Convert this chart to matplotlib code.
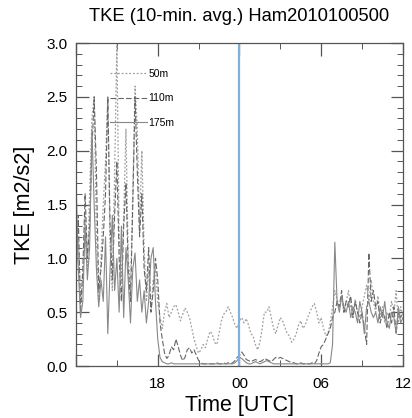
import numpy as np
import matplotlib.pyplot as plt
from matplotlib.ticker import MultipleLocator

# ============================================================
# DATA (10-min averages, 12 UTC -> 12 UTC next day)
# ============================================================

hours = np.arange(12, 36 + 1e-9, 1 / 6)

tke_50m = [
    0.9, 1.2, 0.6, 0.8, 1.4, 0.9,
    1.6, 2.3, 2.5, 1.2, 0.6, 1.0,
    1.5, 1.9, 2.5, 1.1, 0.7, 1.8,
    3.0, 1.2, 0.8, 1.4, 2.2, 1.0,
    0.7, 1.6, 2.6, 2.2, 1.3, 2.0,
    1.1, 0.6, 0.9, 0.5, 0.8, 0.9,
    0.6, 0.45, 0.35, 0.5, 0.58, 0.45,
    0.5, 0.55, 0.57, 0.5, 0.42, 0.48,
    0.54, 0.5, 0.45, 0.35, 0.25, 0.18,
    0.12, 0.15, 0.2, 0.17, 0.25, 0.32,
    0.3, 0.22, 0.2, 0.3, 0.42, 0.48,
    0.5, 0.55, 0.5, 0.45, 0.38, 0.35,
    0.42, 0.45, 0.4, 0.44, 0.38, 0.3,
    0.28, 0.2, 0.15, 0.22, 0.35, 0.5,
    0.5, 0.55, 0.45, 0.35, 0.3, 0.38,
    0.45, 0.42, 0.36, 0.3, 0.28, 0.22,
    0.25, 0.3, 0.38, 0.42, 0.35, 0.38,
    0.45, 0.5, 0.55, 0.58, 0.5, 0.4,
    0.45, 0.35, 0.28, 0.3, 0.4, 0.55,
    0.7, 0.62, 0.55, 0.65, 0.5, 0.6,
    0.7, 0.55, 0.48, 0.62, 0.5, 0.45,
    0.55, 0.65, 0.75, 0.6, 0.8, 0.6,
    0.5, 0.65, 0.45, 0.55, 0.4, 0.5,
    0.45, 0.6, 0.5, 0.7, 0.4, 0.55,
    0.45,
]

tke_110m = [
    0.8, 1.4, 0.5, 0.9, 1.6, 1.0,
    1.3, 2.0, 2.5, 1.8, 0.7, 0.9,
    1.2, 1.6, 2.5, 1.3, 0.8, 1.4,
    1.9, 1.0, 0.6, 1.3, 1.7, 0.9,
    0.6, 1.5, 2.5, 1.8, 1.2, 1.6,
    0.9, 0.7, 1.1, 0.5, 0.7, 1.0,
    0.8, 0.4, 0.25, 0.12, 0.07, 0.1,
    0.18, 0.15, 0.25, 0.18, 0.1, 0.05,
    0.08, 0.15, 0.17, 0.12, 0.15, 0.1,
    0.05, 0.03, 0.02, 0.02, 0.02, 0.02,
    0.02, 0.02, 0.03, 0.02, 0.02, 0.03,
    0.02, 0.03, 0.02, 0.03, 0.05, 0.08,
    0.1, 0.13, 0.1, 0.06, 0.05, 0.04,
    0.05, 0.06, 0.05, 0.04, 0.05, 0.07,
    0.06, 0.05, 0.04, 0.06, 0.08, 0.07,
    0.08, 0.07, 0.06, 0.05, 0.04, 0.03,
    0.03, 0.02, 0.02, 0.03, 0.02, 0.02,
    0.02, 0.02, 0.03, 0.02, 0.05, 0.12,
    0.18, 0.2, 0.25, 0.3, 0.35, 0.45,
    0.5, 0.6, 0.55, 0.7, 0.5, 0.6,
    0.55, 0.65, 0.45, 0.6, 0.5, 0.4,
    0.5, 0.35, 0.2, 1.05, 0.6, 0.7,
    0.55, 0.6, 0.4, 0.5, 0.45, 0.35,
    0.5, 0.4, 0.55, 0.3, 0.5, 0.45,
    0.5,
]

tke_175m = [
    1.75, 0.9, 0.45, 0.6, 1.3, 0.8,
    1.1, 2.2, 1.5, 0.9, 0.55, 0.8,
    0.6, 1.2, 0.3, 0.9, 1.4, 0.7,
    1.0, 0.5, 1.3, 0.45, 1.1, 0.8,
    0.4, 0.9, 1.05, 0.6, 0.8, 0.5,
    0.7, 0.4, 0.6, 1.0, 1.1, 0.6,
    0.25, 0.08, 0.04, 0.03, 0.02, 0.02,
    0.03, 0.02, 0.02, 0.02, 0.02, 0.02,
    0.02, 0.02, 0.02, 0.02, 0.02, 0.02,
    0.02, 0.02, 0.02, 0.02, 0.02, 0.02,
    0.02, 0.02, 0.02, 0.02, 0.02, 0.02,
    0.02, 0.02, 0.02, 0.02, 0.03, 0.05,
    0.08, 0.07, 0.05, 0.03, 0.02, 0.02,
    0.03, 0.04, 0.03, 0.02, 0.03, 0.04,
    0.05, 0.04, 0.03, 0.02, 0.02, 0.02,
    0.02, 0.02, 0.02, 0.02, 0.02, 0.02,
    0.02, 0.02, 0.02, 0.02, 0.02, 0.02,
    0.02, 0.02, 0.02, 0.02, 0.02, 0.02,
    0.02, 0.02, 0.02, 0.02, 0.03, 0.2,
    1.15, 0.6, 0.5, 0.65, 0.55, 0.5,
    0.6, 0.45, 0.55, 0.5, 0.4, 0.6,
    0.5, 0.3, 0.55, 0.6, 0.5, 0.45,
    0.5, 0.4, 0.55, 0.45, 0.6, 0.4,
    0.35, 0.5, 0.45, 0.3, 0.55, 0.4,
    0.45,
]

xtick_pos = [12, 18, 24, 30, 36]
xtick_lab = ["", "18", "00", "06", "12"]

# ============================================================
# PLOT
# ============================================================

plt.rcParams["font.family"] = ["Liberation Sans", "DejaVu Sans"]

fig = plt.figure(figsize=(4.12, 4.18), dpi=100)
ax = fig.add_axes([0.1845, 0.1244, 0.7935, 0.7726])

ax.plot(hours, tke_50m, ls=(0, (1.5, 1.5)), color="#a0a0a0", lw=0.9, label="50m")
ax.plot(hours, tke_110m, ls=(0, (5, 2)), color="#666666", lw=0.8, label="110m")
ax.plot(hours, tke_175m, ls="-", color="#888888", lw=0.8, label="175m")
ax.axvline(24, color="#7fb0dd", lw=1.6)

ax.set_xlim(12, 36)
ax.set_ylim(0, 3)
ax.set_xticks(xtick_pos)
ax.set_xticklabels(xtick_lab)
ax.xaxis.set_minor_locator(MultipleLocator(3))
ax.yaxis.set_major_locator(MultipleLocator(0.5))
ax.yaxis.set_minor_locator(MultipleLocator(0.1))
ax.yaxis.set_major_formatter(plt.FormatStrFormatter("%.1f"))

ax.tick_params(which="both", direction="in", top=True, right=True,
               color="#555555", labelsize=11)
ax.tick_params(which="major", length=9, width=0.9)
ax.tick_params(which="minor", length=4.5, width=0.7)
ax.tick_params(axis="x", which="major", pad=8)
ax.tick_params(axis="y", which="major", pad=6)
for s in ax.spines.values():
    s.set_color("#555555")
    s.set_linewidth(0.9)

ax.set_xlabel("Time [UTC]", fontsize=15.5, labelpad=3)
ax.set_ylabel("TKE [m2/s2]", fontsize=15.5, labelpad=8)
ax.set_title("TKE (10-min. avg.) Ham2010100500", fontsize=13.2, pad=16)

ax.legend(loc="upper left", bbox_to_anchor=(0.09, 0.933), frameon=False,
          fontsize=7.5, handlelength=3.55, handletextpad=0.15,
          labelspacing=1.4, borderaxespad=0)

fig.savefig("out.png", dpi=100)
